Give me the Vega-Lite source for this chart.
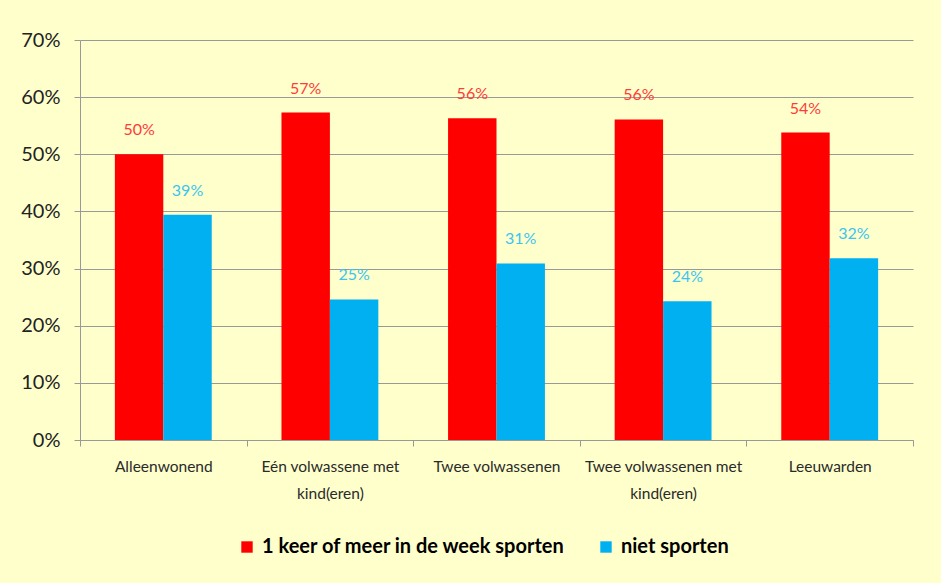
{
  "$schema": "https://vega.github.io/schema/vega-lite/v6.json",
  "width": 833,
  "height": 400,
  "autosize": {"type": "none"},
  "padding": {"left": 80, "top": 40, "right": 28, "bottom": 143},
  "background": "#FFFFCC",
  "config": {"view": {"stroke": null}, "font": "Lato"},
  "data": {
    "values": [
      {"cat": "Alleenwonend", "series": "1 keer of meer in de week sporten", "value": 0.500},
      {"cat": "Alleenwonend", "series": "niet sporten", "value": 0.394},
      {"cat": "Eén volwassene met|kind(eren)", "series": "1 keer of meer in de week sporten", "value": 0.573},
      {"cat": "Eén volwassene met|kind(eren)", "series": "niet sporten", "value": 0.246},
      {"cat": "Twee volwassenen", "series": "1 keer of meer in de week sporten", "value": 0.563},
      {"cat": "Twee volwassenen", "series": "niet sporten", "value": 0.309},
      {"cat": "Twee volwassenen met|kind(eren)", "series": "1 keer of meer in de week sporten", "value": 0.561},
      {"cat": "Twee volwassenen met|kind(eren)", "series": "niet sporten", "value": 0.243},
      {"cat": "Leeuwarden", "series": "1 keer of meer in de week sporten", "value": 0.538},
      {"cat": "Leeuwarden", "series": "niet sporten", "value": 0.318}
    ]
  },
  "encoding": {
    "x": {
      "field": "cat", "type": "nominal", "sort": null,
      "scale": {"paddingInner": 0, "paddingOuter": 0},
      "axis": {
        "title": null, "labelAngle": 0, "labelExpr": "split(datum.label, '|')",
        "tickBand": "extent", "tickSize": 6, "tickColor": "#999999", "domainColor": "#999999",
        "labelFontSize": 15.5, "labelColor": "#2a2a2a", "labelPadding": 13, "labelLineHeight": 27,
        "grid": false
      }
    },
    "xOffset": {"field": "series", "sort": null, "scale": {"paddingInner": 0, "paddingOuter": 0.72}},
    "y": {
      "field": "value", "type": "quantitative",
      "scale": {"domain": [0, 0.7]},
      "axis": {
        "title": null, "format": ".0%", "values": [0, 0.1, 0.2, 0.3, 0.4, 0.5, 0.6, 0.7],
        "grid": true, "gridColor": "#999999", "domainColor": "#999999", "tickColor": "#999999",
        "tickSize": 6, "labelFontSize": 20, "labelPadding": 14, "labelColor": "#222222"
      }
    }
  },
  "layer": [
    {
      "mark": {"type": "bar"},
      "encoding": {
        "color": {
          "field": "series", "type": "nominal", "sort": null,
          "scale": {"range": ["#FF0000", "#00B0F0"]},
          "legend": {
            "title": null, "orient": "none", "legendX": 157, "legendY": 497,
            "direction": "horizontal", "symbolType": "square", "symbolSize": 130,
            "symbolStrokeWidth": 0, "symbolOpacity": 1,
            "labelFontSize": 20, "labelFontWeight": "bold", "labelColor": "#000000",
            "columnPadding": 30, "labelOffset": 5, "labelLimit": 500
          }
        }
      }
    },
    {
      "mark": {"type": "text", "dy": -24, "fontSize": 16, "baseline": "middle"},
      "encoding": {
        "text": {"field": "value", "type": "quantitative", "format": ".0%"},
        "color": {
          "field": "series", "type": "nominal", "sort": null,
          "scale": {"range": ["#FF3B3B", "#3CC4F0"]},
          "legend": null
        }
      }
    }
  ],
  "resolve": {"scale": {"color": "independent"}}
}
